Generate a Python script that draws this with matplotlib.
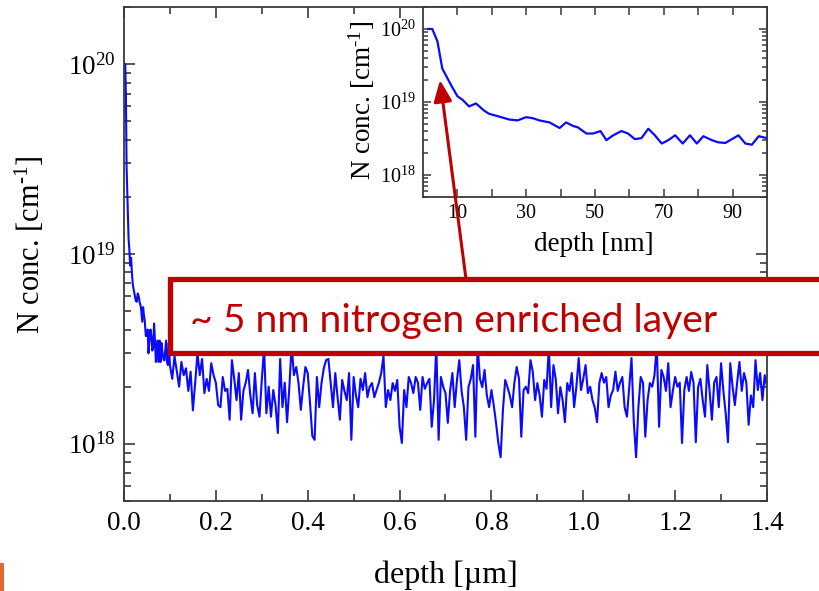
import numpy as np
import matplotlib
matplotlib.use("Agg")
import matplotlib.pyplot as plt
from matplotlib.patches import Rectangle, FancyArrowPatch
from matplotlib.ticker import LogLocator, NullFormatter, FixedLocator

plt.rcParams['font.family'] = ['Liberation Serif', 'DejaVu Serif']
plt.rcParams['mathtext.fontset'] = 'custom'
plt.rcParams['mathtext.rm'] = 'Liberation Serif'
plt.rcParams['mathtext.it'] = 'Liberation Serif:italic'
plt.rcParams['mathtext.bf'] = 'Liberation Serif:bold'

# ---------------- data ----------------
# inset: depth in nm, N concentration in units of 1e18 cm^-1
inset_depth_nm = [1.5, 2.7, 4.2, 5.6, 8.05, 10.0, 11.5, 13.4, 15.4, 17.8, 19.2, 22.2,
                  25.1, 27.5, 30.0, 31.9, 33.8, 36.8, 39.7, 41.6, 43.6, 45.0, 47.5,
                  49.4, 51.6, 53.3, 55.3, 57.7, 59.6, 61.6, 63.5, 65.5, 67.4, 69.4,
                  71.3, 73.3, 75.5, 77.6, 79.6, 81.5, 84.0, 85.9, 87.9, 89.8, 91.7,
                  93.7, 95.6, 97.6, 100.0]
inset_conc_e18 = [100, 100, 67.6, 28.8, 17.4, 12.0, 10.7, 8.7, 9.55, 7.6, 6.9, 6.3,
                  5.75, 5.6, 6.2, 6.0, 5.6, 5.25, 4.4, 5.25, 4.7, 4.5, 3.7,
                  3.7, 4.0, 3.0, 3.5, 4.0, 3.7, 3.1, 3.2, 4.3, 3.5, 2.7,
                  3.0, 3.5, 2.7, 3.5, 2.7, 3.4, 3.0, 2.8, 2.75, 3.1, 3.5,
                  2.7, 2.6, 3.4, 3.2]

# main profile beyond 0.1 um, sampled every 0.005 um (units of 1e18 cm^-1)
main_start_um = 0.100
main_step_um = 0.005
main_conc_e18 = [
    2.6, 2.2, 2.9, 2.4, 2.0, 2.7, 2.3, 2.5, 1.9, 2.4, 1.5, 2.1, 3.0, 2.3, 2.8, 1.85, 2.2, 1.9, 2.66, 2.3,
    2.1, 1.6, 1.56, 2.25, 1.9, 1.95, 1.34, 2.76, 2.2, 1.7, 2.36, 1.34, 1.9, 2.1, 2.45, 1.8, 1.45, 2.36, 1.6, 1.39,
    2.17, 3.2, 1.45, 2.0, 1.39, 1.92, 1.6, 1.14, 2.8, 1.56, 2.1, 1.30, 1.99, 3.3, 2.3, 2.54, 2.09, 1.51, 2.0, 2.54,
    2.36, 1.64, 1.1, 1.05, 2.25, 1.56, 2.09, 2.5, 2.76, 2.8, 2.09, 1.56, 2.36, 1.76, 1.34, 2.17, 1.9, 1.70, 2.36, 1.05,
    2.25, 1.8, 1.56, 2.2, 1.92, 2.36, 1.76, 2.0, 2.09, 1.76, 1.92, 2.1, 2.36, 2.9, 1.56, 1.92, 1.7, 2.09, 1.9, 2.17,
    1.23, 1.01, 1.92, 1.56, 2.25, 2.09, 1.85, 2.25, 2.1, 1.51, 2.25, 1.95, 2.09, 2.2, 1.23, 1.70, 3.3, 1.05, 2.25, 2.0,
    1.85, 1.29, 1.9, 2.36, 1.56, 2.17, 2.76, 1.9, 1.56, 1.05, 1.99, 2.2, 2.6, 1.09, 3.3, 2.2, 1.99, 2.45, 1.8, 1.56,
    1.92, 1.6, 1.29, 1.01, 0.85, 1.5, 2.17, 1.99, 1.8, 1.56, 2.1, 2.54, 2.2, 1.09, 1.92, 2.0, 1.85, 2.76, 2.4, 1.70,
    2.09, 1.8, 1.39, 2.17, 1.95, 3.2, 1.56, 2.6, 2.2, 1.45, 1.99, 1.7, 1.30, 2.09, 1.9, 2.36, 1.56, 2.0, 2.83, 1.92,
    2.2, 2.6, 1.85, 2.0, 1.7, 1.55, 1.30, 2.09, 2.36, 2.1, 2.25, 1.56, 1.8, 1.92, 2.4, 1.9, 2.1, 2.25, 1.56, 1.39,
    2.0, 2.83, 1.3, 0.85, 1.56, 2.25, 2.1, 1.09, 1.7, 2.09, 2.0, 2.3, 3.3, 1.23, 2.45, 2.25, 1.9, 2.66, 1.56, 1.9,
    2.25, 2.0, 2.1, 1.01, 1.92, 2.25, 1.9, 2.39, 2.1, 1.02, 1.99, 2.2, 1.70, 1.39, 2.6, 1.9, 1.34, 2.1, 2.25, 1.56,
    2.66, 1.9, 1.45, 1.02, 2.66, 2.0, 1.6, 2.1, 2.7, 1.9, 2.36, 2.1, 1.26, 1.8, 1.56, 2.76, 1.92, 2.36, 1.7, 2.3, 2.0,
]

main_xticks = [0.0, 0.2, 0.4, 0.6, 0.8, 1.0, 1.2, 1.4]
main_xminor = [0.1, 0.3, 0.5, 0.7, 0.9, 1.1, 1.3]
inset_xticks = [10, 30, 50, 70, 90]
inset_xminor = [20, 40, 60, 80]
annotation_text = "~ 5 nm nitrogen enriched layer"
ylabel_text = "N conc. [cm$^{\\text{-1}}$]"

# ---------------- assemble series ----------------
scale = 1e18
main_tail_depth = main_start_um + main_step_um * np.arange(len(main_conc_e18))
inset_d = np.array(inset_depth_nm)
inset_c = np.array(inset_conc_e18) * scale
keep = inset_d < 100
main_depth = np.concatenate([inset_d[keep] / 1000.0, main_tail_depth])
main_conc = np.concatenate([inset_c[keep], np.array(main_conc_e18) * scale])

# ---------------- figure ----------------
W, H = 820, 591
fig = plt.figure(figsize=(W / 100, H / 100), dpi=100)
fig.patch.set_facecolor('white')


def fx(px):
    return px / W


def fy(py):
    return 1 - py / H


spine_col = '#3a3a3a'
line_col = '#0a0aff'

ax = fig.add_axes([fx(124), fy(501), fx(767) - fx(124), fy(7) - fy(501)])
ax.plot(main_depth, main_conc, color=line_col, lw=1.5)
ax.set_yscale('log')
ax.set_ylim(5e17, 2e20)
ax.set_xlim(0, 1.4)
ax.set_xticks(main_xticks)
ax.set_xticklabels([f"{v:.1f}" for v in main_xticks])
ax.xaxis.set_minor_locator(FixedLocator(main_xminor))
ax.yaxis.set_major_locator(LogLocator(base=10, numticks=10))
ax.yaxis.set_minor_locator(LogLocator(base=10, subs=np.arange(2, 10), numticks=20))
ax.yaxis.set_minor_formatter(NullFormatter())
for s in ax.spines.values():
    s.set_color(spine_col)
    s.set_linewidth(1.3)
ax.tick_params(which='both', direction='in', top=True, right=True, color=spine_col, width=1.2)
ax.tick_params(which='major', length=8, labelsize=19.5, pad=7)
ax.tick_params(which='minor', length=5)
ax.tick_params(axis='y', which='major', pad=6)
ax.set_xlabel("depth [µm]", fontsize=23, va='center')
ax.xaxis.set_label_coords(0.5, (501 - 575) / 494)
ax.set_ylabel(ylabel_text, fontsize=22, va='center')
ax.yaxis.set_label_coords((30 - 124) / 643, (501 - 245) / 494)

# inset
axi = fig.add_axes([fx(423), fy(197), fx(767) - fx(423), fy(7) - fy(197)], zorder=2)
axi.set_facecolor('white')
axi.plot(inset_depth_nm, inset_c, color=line_col, lw=1.6)
axi.set_yscale('log')
axi.set_ylim(5e17, 2e20)
axi.set_xlim(0, 100)
axi.set_xticks(inset_xticks)
axi.xaxis.set_minor_locator(FixedLocator(inset_xminor))
axi.yaxis.set_major_locator(LogLocator(base=10, numticks=10))
axi.yaxis.set_minor_locator(LogLocator(base=10, subs=np.arange(2, 10), numticks=20))
axi.yaxis.set_minor_formatter(NullFormatter())
for s in axi.spines.values():
    s.set_color(spine_col)
    s.set_linewidth(1.3)
axi.tick_params(which='both', direction='in', top=True, right=True, color=spine_col, width=1.1)
axi.tick_params(which='major', length=6, labelsize=14.5, pad=5)
axi.tick_params(which='minor', length=3.5)
axi.tick_params(axis='x', which='minor', length=6)
axi.set_xlabel("depth [nm]", fontsize=19.5, va='center')
axi.xaxis.set_label_coords((594 - 423) / 344, (197 - 245) / 190)
axi.set_ylabel(ylabel_text, fontsize=19.5, va='center')
axi.yaxis.set_label_coords((362 - 423) / 344, (197 - 100) / 190)

# annotation box
red = '#C00000'
box = Rectangle((fx(170), fy(353)), fx(840) - fx(170), fy(279) - fy(353),
                transform=fig.transFigure, facecolor='white', edgecolor=red,
                linewidth=3.8, zorder=10, clip_on=False)
fig.add_artist(box)
txt = fig.text(fx(190), fy(332), annotation_text, fontsize=28, family=['Lato', 'DejaVu Sans'],
               color=red, va='baseline', ha='left', zorder=11)
fig.canvas.draw()
bb = txt.get_window_extent()
txt.set_fontsize(28 * (718 - 190) / bb.width)

arrow = FancyArrowPatch((fx(466), fy(279)), (fx(440), fy(80)), transform=fig.transFigure,
                        arrowstyle='-|>,head_length=1.3,head_width=0.55', mutation_scale=10,
                        color=red, lw=2.2, shrinkA=0, shrinkB=0, zorder=12)
fig.add_artist(arrow)

mark = Rectangle((0, fy(591)), fx(4), fy(563) - fy(591), transform=fig.transFigure,
                 facecolor='#E2692F', edgecolor='none', zorder=10)
fig.add_artist(mark)

fig.savefig("out.png", dpi=100)
